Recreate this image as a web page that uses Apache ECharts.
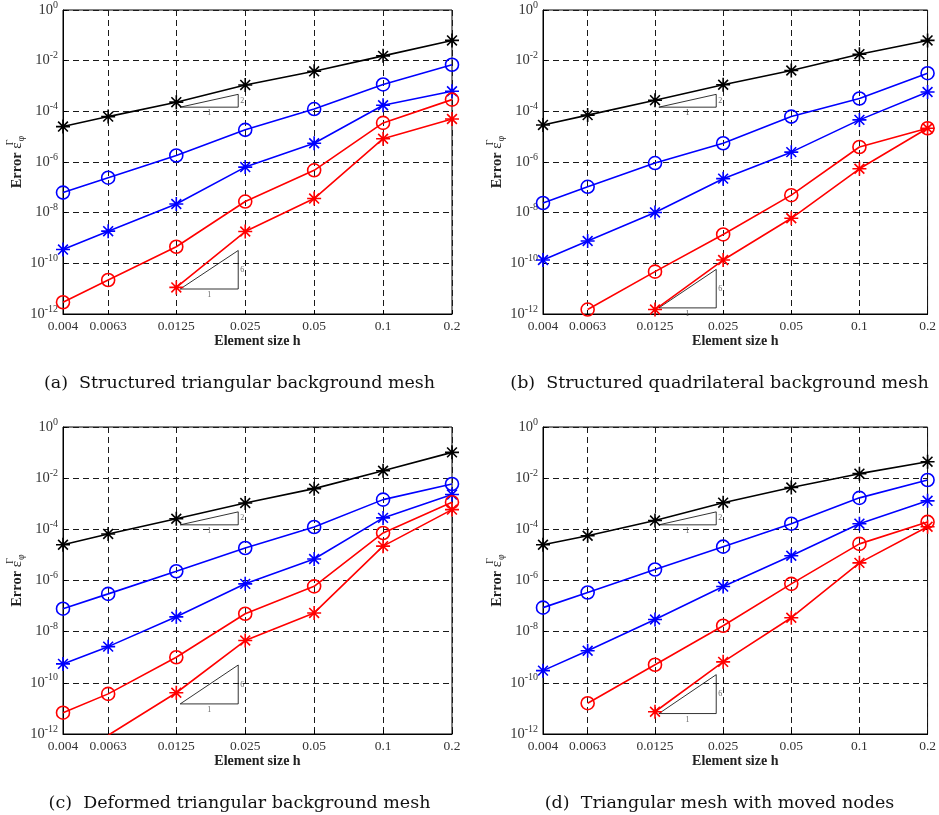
<!DOCTYPE html>
<html>
<head>
<meta charset="utf-8">
<script src="https://cdn.jsdelivr.net/npm/echarts@6/dist/echarts.min.js"></script>
<style>
  html, body { margin: 0; padding: 0; background: #ffffff; }
  #chart { width: 939px; height: 815px; }
</style>
</head>
<body>
<div id="chart"></div>
<script>
// Element sizes (x axis) and their tick labels
const hValues = [0.004, 0.0063, 0.0125, 0.025, 0.05, 0.1, 0.2];
const hTickLabels = ['0.004', '0.0063', '0.0125', '0.025', '0.05', '0.1', '0.2'];
// Error axis ticks (every two decades)
const errTicks = [1e-12, 1e-10, 1e-8, 1e-6, 1e-4, 1e-2, 1];

const captions = [
  '(a)  Structured triangular background mesh',
  '(b)  Structured quadrilateral background mesh',
  '(c)  Deformed triangular background mesh',
  '(d)  Triangular mesh with moved nodes'
];

// (a) structured triangular background mesh
const aBlackStar  = [2.5e-5, 6.2e-5, 2.3e-4, 1.1e-3, 3.8e-3, 1.55e-2, 6.3e-2];
const aBlueCircle = [6.2e-8, 2.4e-7, 1.8e-6, 1.86e-5, 1.23e-4, 1.15e-3, 6.9e-3];
const aBlueStar   = [3.5e-10, 1.86e-9, 2.2e-8, 6.3e-7, 5.5e-6, 1.74e-4, 6.2e-4];
const aRedCircle  = [2.9e-12, 2.2e-11, 4.5e-10, 2.75e-8, 4.7e-7, 3.5e-5, 2.9e-4];
const aRedStar    = [null, null, 1.12e-11, 1.8e-9, 3.6e-8, 8.3e-6, 5.0e-5];

// (b) structured quadrilateral background mesh
const bBlackStar  = [2.9e-5, 7.1e-5, 2.75e-4, 1.12e-3, 4.1e-3, 1.8e-2, 6.3e-2];
const bBlueCircle = [2.4e-8, 1.05e-7, 9.1e-7, 5.5e-6, 6.2e-5, 3.2e-4, 3.2e-3];
const bBlueStar   = [1.35e-10, 7.6e-10, 1.02e-8, 2.2e-7, 2.45e-6, 4.6e-5, 5.8e-4];
const bRedCircle  = [null, 1.5e-12, 4.7e-11, 1.38e-9, 4.9e-8, 3.9e-6, 2.15e-5];
const bRedStar    = [null, null, 1.5e-12, 1.35e-10, 6.0e-9, 5.4e-7, 2.15e-5];

// (c) deformed triangular background mesh
const cBlackStar  = [2.5e-5, 6.6e-5, 2.6e-4, 1.07e-3, 3.9e-3, 1.95e-2, 1.02e-1];
const cBlueCircle = [7.9e-8, 3.0e-7, 2.3e-6, 1.86e-5, 1.23e-4, 1.45e-3, 5.9e-3];
const cBlueStar   = [5.5e-10, 2.6e-9, 3.8e-8, 7.4e-7, 6.9e-6, 2.8e-4, 2.3e-3];
const cRedCircle  = [6.8e-12, 3.7e-11, 1.0e-9, 5.0e-8, 5.9e-7, 7.2e-5, 1.15e-3];
const cRedStar    = [null, 8.9e-13, 4.1e-11, 4.5e-9, 5.4e-8, 2.2e-5, 5.9e-4];

// (d) triangular mesh with moved nodes
const dBlackStar  = [2.5e-5, 5.6e-5, 2.2e-4, 1.1e-3, 4.3e-3, 1.5e-2, 4.4e-2];
const dBlueCircle = [8.7e-8, 3.4e-7, 2.7e-6, 2.1e-5, 1.66e-4, 1.7e-3, 8.5e-3];
const dBlueStar   = [3.0e-10, 1.8e-9, 3.0e-8, 5.8e-7, 9.3e-6, 1.66e-4, 1.3e-3];
const dRedCircle  = [null, 1.6e-11, 5.1e-10, 1.7e-8, 7.4e-7, 2.7e-5, 1.95e-4];
const dRedStar    = [null, null, 7.4e-12, 6.6e-10, 3.5e-8, 4.9e-6, 1.26e-4];

// Reference slope triangles: [h start, h end, error at base, slope]
const slopeTriangles = [
  [[0.013, 0.0233, 1.46e-4, 2], [0.013, 0.0233, 9.7e-12, 6]],
  [[0.013, 0.0233, 1.46e-4, 2], [0.013, 0.0233, 1.74e-12, 6]],
  [[0.013, 0.0233, 1.5e-4, 2],  [0.013, 0.0233, 1.5e-11, 6]],
  [[0.013, 0.0233, 1.5e-4, 2],  [0.013, 0.0233, 6.3e-12, 6]]
];

const panels = [
  [aBlackStar, aBlueCircle, aBlueStar, aRedCircle, aRedStar],
  [bBlackStar, bBlueCircle, bBlueStar, bRedCircle, bRedStar],
  [cBlackStar, cBlueCircle, cBlueStar, cRedCircle, cRedStar],
  [dBlackStar, dBlueCircle, dBlueStar, dRedCircle, dRedStar]
];
const curveColors = ['#000000', '#0000ff', '#0000ff', '#ff0000', '#ff0000'];
const curveMarkers = ['star', 'circle', 'star', 'circle', 'star'];

// panel layout
const gridRects = [
  { left: 63, top: 7 },
  { left: 543, top: 7 },
  { left: 63, top: 427 },
  { left: 543, top: 427 }
];
const gridW = 389, gridH = 307;

const STAR_PATH = 'path://M10,0L10,20M0,10L20,10M3,3L17,17M3,17L17,3';
const SERIF = '"Liberation Serif", "Times New Roman", serif';

function pairs(values) {
  const out = [];
  values.forEach((v, i) => { if (v != null) out.push([hValues[i], v]); });
  return out;
}

function hLabel(v) {
  let best = 0;
  hValues.forEach((h, i) => {
    if (Math.abs(Math.log(h / v)) < Math.abs(Math.log(hValues[best] / v))) best = i;
  });
  return hTickLabels[best];
}

const grids = [], xAxes = [], yAxes = [], series = [], titles = [];

gridRects.forEach((r, p) => {
  grids.push({
    left: r.left, top: r.top, width: gridW, height: gridH,
    show: true, borderColor: '#000', borderWidth: 1, backgroundColor: '#fff'
  });
  xAxes.push({
    type: 'log', gridIndex: p, logBase: 10,
    min: hValues[0], max: hValues[hValues.length - 1],
    name: 'Element size h', nameLocation: 'middle', nameGap: 20,
    nameTextStyle: { fontFamily: SERIF, fontWeight: 'bold', fontSize: 14, color: '#222' },
    axisLine: { show: true, lineStyle: { color: '#000', width: 1 } },
    axisTick: { show: true, inside: true, length: 4, customValues: hValues, lineStyle: { color: '#000' } },
    axisLabel: {
      customValues: hValues, formatter: v => hLabel(v),
      fontFamily: SERIF, fontSize: 13.5, color: '#333', margin: 5
    },
    splitLine: { show: true, lineStyle: { color: '#1a1a1a', type: [6, 4], width: 1 } },
    minorTick: { show: false }, minorSplitLine: { show: false }
  });
  yAxes.push({
    type: 'log', gridIndex: p, logBase: 10,
    min: errTicks[0], max: errTicks[errTicks.length - 1],
    name: '{b|Error }{e|ε}{sup|Γ}{sub|φ}',
    nameLocation: 'middle', nameRotate: 90, nameGap: 32,
    nameTextStyle: {
      fontFamily: SERIF, color: '#222',
      rich: {
        b: { fontFamily: SERIF, fontWeight: 'bold', fontSize: 14.5, color: '#222' },
        e: { fontFamily: SERIF, fontSize: 15, color: '#222' },
        sup: { fontFamily: SERIF, fontSize: 10, color: '#222', width: 0.01, padding: [0, 0, 12, 0] },
        sub: { fontFamily: SERIF, fontSize: 10, color: '#222', padding: [9, 0, 0, 1] }
      }
    },
    axisLine: { show: true, lineStyle: { color: '#000', width: 1 } },
    axisTick: { show: true, inside: true, length: 4, customValues: errTicks, lineStyle: { color: '#000' } },
    axisLabel: {
      customValues: errTicks,
      formatter: v => '{b|10}{s|' + Math.round(Math.log10(v)) + '}',
      margin: 5,
      rich: {
        b: { fontFamily: SERIF, fontSize: 14.5, color: '#333' },
        s: { fontFamily: SERIF, fontSize: 10, color: '#333', padding: [0, 0, 10, 0] }
      }
    },
    splitLine: { show: true, lineStyle: { color: '#1a1a1a', type: [6, 4], width: 1 } },
    minorTick: { show: false }, minorSplitLine: { show: false }
  });

  // convergence curves
  panels[p].forEach((vals, k) => {
    const c = curveColors[k];
    const isStar = curveMarkers[k] === 'star';
    series.push({
      type: 'line', xAxisIndex: p, yAxisIndex: p,
      data: pairs(vals), clip: true, z: 3,
      symbol: isStar ? STAR_PATH : 'circle',
      symbolSize: isStar ? 14 : 13,
      showAllSymbol: true,
      lineStyle: { color: c, width: 1.6 },
      itemStyle: { color: isStar ? c : 'rgba(0,0,0,0)', borderColor: c, borderWidth: 1.6 },
      emphasis: { disabled: true },
      animation: false
    });
  });

  // slope triangles with their annotations
  slopeTriangles[p].forEach(t => {
    const [x0, x1, y0, s] = t;
    const y1 = y0 * Math.pow(x1 / x0, s);
    series.push({
      type: 'line', xAxisIndex: p, yAxisIndex: p, z: 2,
      data: [[x0, y0], [x1, y0], [x1, y1], [x0, y0]],
      symbol: 'none', lineStyle: { color: '#000', width: 0.8 },
      emphasis: { disabled: true }, animation: false, silent: true
    });
    const xm = Math.sqrt(x0 * x1);
    const ym = Math.sqrt(y0 * y1);
    series.push({
      type: 'scatter', xAxisIndex: p, yAxisIndex: p, z: 2,
      symbolSize: 0, silent: true, animation: false,
      data: [
        { value: [xm, y0], label: { position: 'bottom', distance: 2, formatter: '1' } },
        { value: [x1, ym], label: { position: 'right', distance: 2, formatter: String(s) } }
      ],
      label: { show: true, fontFamily: SERIF, fontSize: 8, color: '#444' }
    });
  });

  titles.push({
    text: captions[p],
    left: r.left + gridW / 2 - 23, top: r.top + gridH + 55,
    textAlign: 'center',
    textStyle: { fontFamily: '"DejaVu Serif", serif', fontWeight: 'normal', fontSize: 17.5, color: '#111' }
  });
});

const chart = echarts.init(document.getElementById('chart'), null, { renderer: 'canvas' });
chart.setOption({
  animation: false,
  backgroundColor: '#ffffff',
  title: titles,
  grid: grids,
  xAxis: xAxes,
  yAxis: yAxes,
  series: series
});
</script>
</body>
</html>
